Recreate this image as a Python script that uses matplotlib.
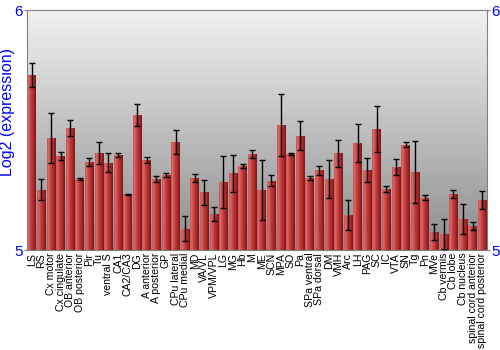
import numpy as np
import matplotlib
matplotlib.use("Agg")
import matplotlib.pyplot as plt
from matplotlib.colors import LinearSegmentedColormap

plt.rcParams['font.family'] = ['Liberation Sans', 'DejaVu Sans']

categories = ["LS", "RS", "Cx motor", "Cx cingulate", "OB anterior", "OB posterior",
              "Pir", "Tu", "ventral S", "CA1", "CA2/CA3", "DG", "A anterior",
              "A posterior", "GP", "CPu lateral", "CPu medial", "MD", "VA/VL",
              "VPM/VPL", "LG", "MG", "Hb", "M", "ME", "SCN", "MPA", "SO", "Pa",
              "SPa ventral", "SPa dorsal", "DM", "VMH", "Arc", "LH", "PAG", "SC",
              "IC", "VTA", "SN", "Tg", "Pn", "MVe", "Cb vermis", "Cb lobe",
              "Cb nucleus", "spinal cord anterior", "spinal cord posterior"]
values = [5.729, 5.251, 5.467, 5.393, 5.508, 5.294, 5.367, 5.404, 5.364, 5.396,
          5.232, 5.562, 5.375, 5.297, 5.311, 5.451, 5.089, 5.300, 5.240, 5.150,
          5.285, 5.319, 5.350, 5.400, 5.251, 5.288, 5.521, 5.401, 5.476, 5.300,
          5.333, 5.294, 5.403, 5.146, 5.446, 5.332, 5.504, 5.254, 5.346, 5.438,
          5.325, 5.218, 5.076, 5.067, 5.233, 5.128, 5.100, 5.208]
errors = [0.050, 0.044, 0.103, 0.017, 0.035, 0.004, 0.017, 0.046, 0.039, 0.010,
          0.002, 0.047, 0.014, 0.012, 0.008, 0.050, 0.051, 0.015, 0.053, 0.028,
          0.108, 0.078, 0.007, 0.017, 0.124, 0.023, 0.128, 0.005, 0.060, 0.010,
          0.019, 0.079, 0.056, 0.062, 0.081, 0.050, 0.095, 0.014, 0.034, 0.010,
          0.129, 0.010, 0.033, 0.063, 0.017, 0.062, 0.017, 0.039]
y_ticks = [5, 6]

fig = plt.figure(figsize=(5, 3.5), dpi=100)
ax = fig.add_axes([27/500, 1 - 250/350, 460/500, 240/350])

# background gradient
bg = LinearSegmentedColormap.from_list("bg", ["#8c8c8c", "#f2f2f2"])
grad = np.linspace(0, 1, 256).reshape(-1, 1)
ax.imshow(grad, extent=[0, 1, 0, 1], transform=ax.transAxes, aspect='auto',
          cmap=bg, origin='lower', zorder=0)

x = np.arange(len(categories))
base = y_ticks[0]
bars = ax.bar(x, np.array(values) - base, bottom=base, width=0.9,
              color="#b83232", zorder=2)

barcmap = LinearSegmentedColormap.from_list(
    "bar", [(0.0, "#c85050"), (0.15, "#dc6a6a"), (0.45, "#c23c3c"),
            (0.75, "#a82828"), (1.0, "#7a1616")])
hgrad = np.linspace(0, 1, 64).reshape(1, -1)
for p in bars.patches:
    bb = p.get_bbox()
    im = ax.imshow(hgrad, extent=[bb.x0, bb.x1, bb.y0, bb.y1], aspect='auto',
                   cmap=barcmap, zorder=2.5)
    im.set_clip_path(p)

ax.errorbar(x, values, yerr=errors, fmt='none', ecolor='black', elinewidth=1.0,
            capsize=2.5, capthick=1.0, zorder=3)

ax.set_xlim(-0.5, len(categories) - 0.5)
ax.set_ylim(5, 6)
ax.set_yticks(y_ticks)
ax.set_yticklabels([str(t) for t in y_ticks])
ax.tick_params(axis='y', colors='#808080', labelcolor='#0000ff', labelsize=11,
               length=2, pad=1, right=True, labelright=True)
ax.set_xticks(x)
ax.set_xticklabels(categories, rotation=90, fontsize=7.6)
ax.tick_params(axis='x', length=0, pad=2)
for s in ax.spines.values():
    s.set_color('#808080')
ax.set_ylabel("Log2 (expression)", color='#0000ff', fontsize=11.5)
ax.yaxis.set_label_coords(-0.026, 0.575)

fig.savefig("out.png", dpi=100)
